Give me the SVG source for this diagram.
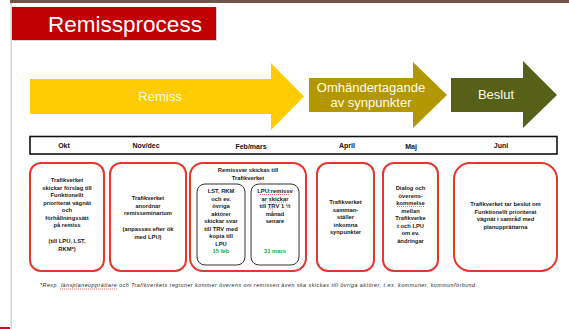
<svg xmlns="http://www.w3.org/2000/svg" width="569" height="329" viewBox="0 0 569 329">
<style>
.t{font-family:"Liberation Sans",Arial,sans-serif;font-weight:bold;font-size:5.8px;fill:#1a1a1a;text-anchor:middle}
.h{font-family:"Liberation Sans",Arial,sans-serif;font-weight:bold;font-size:7px;fill:#111;text-anchor:middle}
.a{font-family:"Liberation Sans",Arial,sans-serif;font-size:13px;fill:#fffbe8;text-anchor:middle}
.box{fill:#fff;stroke:#e2382e;stroke-width:2}
.inner{fill:#fff;stroke:#333;stroke-width:1}
.g{fill:#00b050}
.sq{stroke:#e85050;stroke-width:0.8;stroke-dasharray:1 1;fill:none}
</style>
<rect width="569" height="329" fill="#fff"/>
<rect x="10" y="0" width="559" height="3" fill="#6e5548"/>
<rect x="10.5" y="3" width="1.5" height="326" fill="#d4d4d4"/>
<rect x="0" y="327" width="10" height="2" fill="#c0102a"/>
<g id="title">
<rect x="13" y="8" width="204" height="33" fill="#999" opacity="0.4"/>
<rect x="12" y="7" width="204" height="33" fill="#c00000"/>
<text x="125" y="32" font-family="Liberation Sans,Arial,sans-serif" font-size="22.5" fill="#fff" text-anchor="middle">Remissprocess</text>
</g>
<g id="arrow-remiss">
<polygon points="30,79 271,79 271,63 304,96.5 271,130 271,114 30,114" fill="#ffcc00"/>
<text class="a" x="160" y="101">Remiss</text>
</g>
<g id="arrow-omhandertagande">
<polygon points="309,78 413,78 413,62 447,95 413,128 413,112 309,112" fill="#b39700"/>
<text class="a" x="371" y="92">Omhändertagande</text>
<text class="a" x="371" y="107">av synpunkter</text>
</g>
<g id="arrow-beslut">
<polygon points="451,78 523,78 523,61 557,95 523,128 523,112 451,112" fill="#566017"/>
<text class="a" x="496" y="99">Beslut</text>
</g>
<g id="timeline">
<rect x="30" y="136.5" width="527" height="17.5" fill="#fff" stroke="#111" stroke-width="1.6"/>
<text class="h" x="64" y="148">Okt</text>
<text class="h" x="146" y="148">Nov/dec</text>
<text class="h" x="251" y="149">Feb/mars</text>
<text class="h" x="347" y="148">April</text>
<text class="h" x="411" y="149">Maj</text>
<text class="h" x="501" y="148">Juni</text>
</g>
<g id="box-okt">
<rect class="box" x="30" y="163" width="74" height="108" rx="11"/>
<text class="t" x="67" y="182">Trafikverket</text>
<text class="t" x="67" y="189.5">skickar förslag till</text>
<text class="t" x="67" y="197">Funktionellt</text>
<text class="t" x="67" y="204.5">prioriterat vägnät</text>
<text class="t" x="67" y="212">och</text>
<text class="t" x="67" y="219.5">förhållningssätt</text>
<text class="t" x="67" y="227">på remiss</text>
<text class="t" x="67" y="243">(till LPU, LST,</text>
<text class="t" x="67" y="250.5">RKM*)</text>
</g>
<g id="box-novdec">
<rect class="box" x="110" y="163" width="76" height="108" rx="11"/>
<text class="t" x="148" y="200">Trafikverket</text>
<text class="t" x="148" y="207.5">anordnar</text>
<text class="t" x="148" y="215">remisseminarium</text>
<text class="t" x="148" y="231">(anpassas efter ök</text>
<text class="t" x="148" y="238.5">med LPU)</text>
</g>
<g id="box-febmars">
<rect class="box" x="190" y="163" width="116" height="108" rx="13"/>
<text class="t" x="248" y="172">Remissvar skickas till</text>
<text class="t" x="248" y="179.5">Trafikverket</text>
</g>
<g id="box-febmars-aktorer">
<rect class="inner" x="197" y="184" width="48" height="81" rx="8"/>
<text class="t" x="221" y="193">LST, RKM</text>
<text class="t" x="221" y="200.5">och ev.</text>
<text class="t" x="221" y="208">övriga</text>
<text class="t" x="221" y="215.5">aktörer</text>
<text class="t" x="221" y="223">skickar svar</text>
<text class="t" x="221" y="230.5">till TRV med</text>
<text class="t" x="221" y="238">kopia till</text>
<text class="t" x="221" y="245.5">LPU</text>
<text class="t g" x="221" y="253">15 feb</text>
</g>
<g id="box-febmars-lpu">
<rect class="inner" x="251" y="184" width="48" height="81" rx="8"/>
<text class="t" x="275" y="193">LPU:remissv</text>
<path class="sq" d="M260,194.5 H290 M263,202 H286 M268,209 H274"/>
<text class="t" x="275" y="200.5">ar skickar</text>
<text class="t" x="275" y="208">till TRV 1 ½</text>
<text class="t" x="275" y="215.5">månad</text>
<text class="t" x="275" y="223">senare</text>
<text class="t g" x="275" y="253">31 mars</text>
</g>
<g id="box-april">
<rect class="box" x="317" y="163" width="57" height="108" rx="11"/>
<text class="t" x="345.5" y="204">Trafikverket</text>
<text class="t" x="345.5" y="211.5">samman-</text>
<text class="t" x="345.5" y="219">ställer</text>
<text class="t" x="345.5" y="226.5">inkomna</text>
<text class="t" x="345.5" y="234">synpunkter</text>
</g>
<g id="box-maj">
<rect class="box" x="383" y="163" width="55" height="108" rx="11"/>
<text class="t" x="410.5" y="190">Dialog och</text>
<text class="t" x="410.5" y="197.5">överens-</text>
<text class="t" x="410.5" y="205">kommelse</text>
<path class="sq" d="M397,206.5 H424"/>
<text class="t" x="410.5" y="212.5">mellan</text>
<text class="t" x="410.5" y="220">Trafikverke</text>
<text class="t" x="410.5" y="227.5">t och LPU</text>
<text class="t" x="410.5" y="235">om ev.</text>
<text class="t" x="410.5" y="242.5">ändringar</text>
</g>
<g id="box-juni">
<rect class="box" x="454" y="163" width="103" height="108" rx="16"/>
<text class="t" x="505.5" y="206">Trafikverket tar beslut om</text>
<text class="t" x="505.5" y="213.5">Funktionellt prioriterat</text>
<text class="t" x="505.5" y="221">vägnät i samråd med</text>
<text class="t" x="505.5" y="228.5">planupprättarna</text>
</g>
<g id="footnote">
<text x="40" y="287" font-family="Liberation Sans,Arial,sans-serif" font-style="italic" font-size="5.3" fill="#222" textLength="437">*Resp. länsplaneupprättare och Trafikverkets regioner kommer överens om remissen även ska skickas till övriga aktörer, t.ex. kommuner, kommunförbund.</text>
<path class="sq" d="M60,289 H117"/>
</g>
</svg>
